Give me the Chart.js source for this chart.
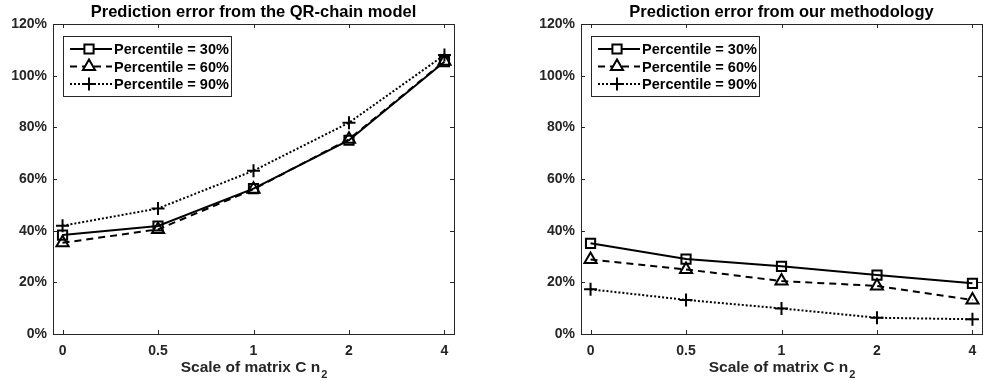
<!DOCTYPE html>
<html>
<head>
<meta charset="utf-8">
<script src="https://cdn.jsdelivr.net/npm/chart.js@4.4.0/dist/chart.umd.min.js"></script>
<style>
  html, body { margin: 0; padding: 0; background: #fff; overflow: hidden; }
  .box { position: absolute; top: 0; height: 383px; }
  #left { left: 0; width: 470px; }
  #right { left: 490px; width: 493px; }
</style>
</head>
<body>
<div class="box" id="left"><canvas id="leftCanvas"></canvas></div>
<div class="box" id="right"><canvas id="rightCanvas"></canvas></div>
<script>
/*eslint no-undef: 0*/

// x categories (evenly spaced in the plot)
const categories = ['0', '0.5', '1', '2', '4'];
const seriesNames = ['Percentile = 30%', 'Percentile = 60%', 'Percentile = 90%'];

// Prediction error (%) from the QR-chain model
const qrChain30 = [38.3, 41.8, 56.3, 75.0, 105.4];
const qrChain60 = [35.3, 40.5, 56.0, 75.4, 105.6];
const qrChain90 = [41.9, 48.6, 63.2, 81.8, 108.0];

// Prediction error (%) from our methodology
const ours30 = [35.1, 29.0, 26.2, 22.8, 19.6];
const ours60 = [28.8, 25.0, 20.5, 18.6, 13.2];
const ours90 = [17.3, 13.2, 9.9, 6.3, 5.7];

const yMin = 0;
const yMax = 120;
const yStep = 20;

const FONT = "'Liberation Sans', Arial, Helvetica, sans-serif";
const AXIS_COLOR = '#262626';

const seriesStyles = [
    { dash: [], pointStyle: 'rect', radius: 6.5 },
    { dash: [7, 5], pointStyle: 'triangle', radius: 7 },
    { dash: [2, 2], pointStyle: 'cross', radius: 6.5 }
];

function makeDatasets(values) {
    return values.map((vals, i) => ({
        label: seriesNames[i],
        data: vals.map((v, k) => ({ x: k, y: v })),
        borderColor: '#000',
        backgroundColor: 'rgba(0,0,0,0)',
        borderWidth: 2,
        borderDash: seriesStyles[i].dash,
        pointStyle: seriesStyles[i].pointStyle,
        pointRadius: seriesStyles[i].radius,
        pointBorderWidth: 2,
        pointBorderColor: '#000',
        pointBackgroundColor: 'rgba(0,0,0,0)',
        tension: 0
    }));
}

// MATLAB-like box, inward ticks, title, x label and legend
const matlabAxes = {
    id: 'matlabAxes',
    afterDraw: function (chart, args, opts) {
        const ctx = chart.ctx;
        const a = chart.chartArea;
        const xs = chart.scales.x;
        const ys = chart.scales.y;
        ctx.save();
        ctx.strokeStyle = AXIS_COLOR;
        ctx.lineWidth = 1;
        ctx.setLineDash([]);
        ctx.strokeRect(Math.round(a.left) + 0.5, Math.round(a.top) + 0.5,
            Math.round(a.right - a.left), Math.round(a.bottom - a.top));
        const t = 4;
        ctx.beginPath();
        for (let k = 0; k < categories.length; k++) {
            const px = Math.round(xs.getPixelForValue(k)) + 0.5;
            ctx.moveTo(px, a.bottom); ctx.lineTo(px, a.bottom - t);
            ctx.moveTo(px, a.top); ctx.lineTo(px, a.top + t);
        }
        for (let v = yMin; v <= yMax; v += yStep) {
            const py = Math.round(ys.getPixelForValue(v)) + 0.5;
            ctx.moveTo(a.left, py); ctx.lineTo(a.left + t, py);
            ctx.moveTo(a.right, py); ctx.lineTo(a.right - t, py);
        }
        ctx.stroke();

        // title
        const cx = (a.left + a.right) / 2;
        ctx.fillStyle = '#000';
        ctx.font = 'bold 16.5px ' + FONT;
        ctx.textAlign = 'center';
        ctx.textBaseline = 'middle';
        ctx.fillText(opts.title, cx, 12);

        // x label with subscript
        ctx.fillStyle = AXIS_COLOR;
        ctx.font = 'bold 15.5px ' + FONT;
        const main = 'Scale of matrix C n';
        const wMain = ctx.measureText(main).width;
        ctx.font = 'bold 11px ' + FONT;
        const wSub = ctx.measureText('2').width;
        const x0 = cx - (wMain + wSub) / 2;
        ctx.textAlign = 'left';
        ctx.font = 'bold 15.5px ' + FONT;
        ctx.fillText(main, x0, 368);
        ctx.font = 'bold 11px ' + FONT;
        ctx.fillText('2', x0 + wMain + 1, 375);

        // legend
        const lx = a.left + 10, ly = a.top + 12;
        const lw = 168, lh = 60;
        ctx.fillStyle = '#fff';
        ctx.fillRect(lx, ly, lw, lh);
        ctx.strokeStyle = AXIS_COLOR;
        ctx.lineWidth = 1;
        ctx.strokeRect(Math.round(lx) + 0.5, Math.round(ly) + 0.5, lw, lh);
        chart.data.datasets.forEach((ds, i) => {
            const ry = ly + 13 + i * 17.5;
            ctx.strokeStyle = '#000';
            ctx.lineWidth = 2;
            ctx.setLineDash(ds.borderDash);
            ctx.beginPath();
            ctx.moveTo(lx + 7, ry);
            ctx.lineTo(lx + 49, ry);
            ctx.stroke();
            ctx.setLineDash([]);
            ctx.fillStyle = '#fff';
            ctx.strokeStyle = '#000';
            Chart.helpers.drawPoint(ctx, {
                pointStyle: ds.pointStyle,
                radius: ds.pointRadius,
                borderWidth: 2
            }, lx + 26, ry);
            ctx.fillStyle = '#000';
            ctx.font = 'bold 14.5px ' + FONT;
            ctx.textAlign = 'left';
            ctx.textBaseline = 'middle';
            ctx.fillText(ds.label, lx + 51, ry + 1);
        });
        ctx.restore();
    }
};

function makeChart(canvasId, datasets, title, padLeft, padRight) {
    return new Chart(document.getElementById(canvasId), {
        type: 'line',
        data: { datasets: datasets },
        options: {
            responsive: true,
            maintainAspectRatio: false,
            animation: false,
            layout: {
                autoPadding: false,
                padding: { left: padLeft, right: padRight, top: 24, bottom: 1 }
            },
            plugins: {
                legend: { display: false },
                title: { display: false },
                tooltip: { enabled: false },
                matlabAxes: { title: title }
            },
            scales: {
                x: {
                    type: 'linear',
                    min: -0.1,
                    max: categories.length - 0.9,
                    grid: { display: false, drawTicks: false },
                    border: { display: false },
                    afterBuildTicks: function (scale) {
                        scale.ticks = categories.map((c, k) => ({ value: k }));
                    },
                    afterFit: function (scale) {
                        scale.height = 48;
                        scale.paddingLeft = 0;
                        scale.paddingRight = 0;
                    },
                    ticks: {
                        autoSkip: false,
                        maxRotation: 0,
                        padding: 9,
                        color: AXIS_COLOR,
                        font: { family: FONT, weight: 'bold', size: 14 },
                        callback: function (v) { return categories[v]; }
                    }
                },
                y: {
                    min: yMin,
                    max: yMax,
                    grid: { display: false, drawTicks: false },
                    border: { display: false },
                    afterFit: function (scale) {
                        scale.width = 50;
                        scale.paddingTop = 0;
                        scale.paddingBottom = 0;
                    },
                    ticks: {
                        stepSize: yStep,
                        padding: 6,
                        color: AXIS_COLOR,
                        font: { family: FONT, weight: 'bold', size: 14 },
                        callback: function (v) { return v + '%'; }
                    }
                }
            }
        },
        plugins: [matlabAxes]
    });
}

makeChart('leftCanvas', makeDatasets([qrChain30, qrChain60, qrChain90]),
    'Prediction error from the QR-chain model', 3, 16);
makeChart('rightCanvas', makeDatasets([ours30, ours60, ours90]),
    'Prediction error from our methodology', 41, 1);
</script>
</body>
</html>
